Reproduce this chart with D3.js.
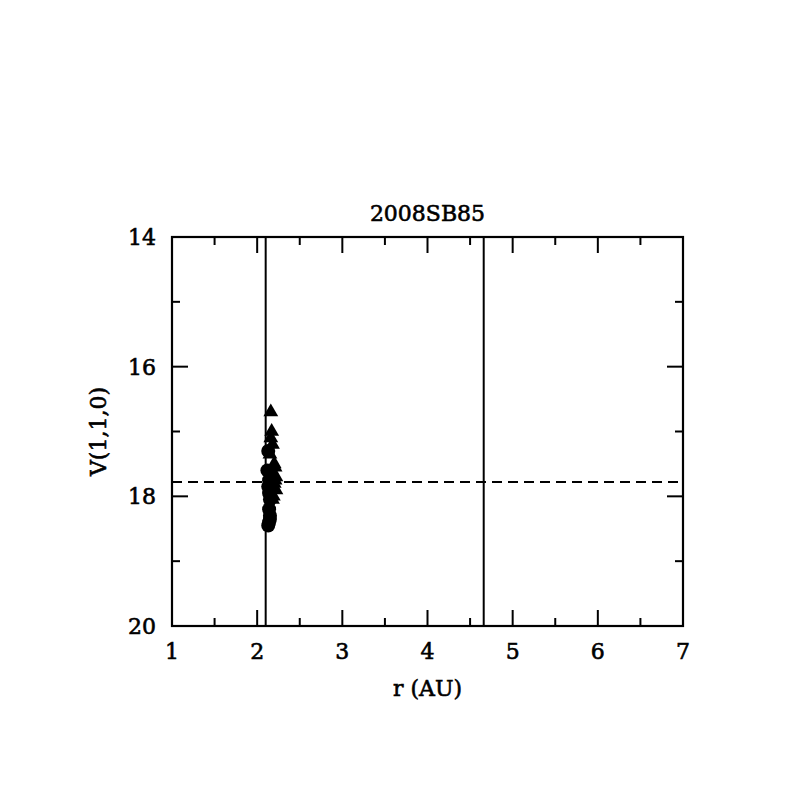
<!DOCTYPE html>
<html>
<head>
<meta charset="utf-8">
<script src="https://cdn.jsdelivr.net/npm/d3@7"></script>
<style>
  body { margin: 0; background: #fff; }
  text { font-family: "DejaVu Serif", serif; fill: #000; stroke: #000; stroke-width: 0.6px; }
</style>
</head>
<body>
<div id="chart"></div>
<script>
// Data
const title = "2008SB85";
const xTicks = [1, 2, 3, 4, 5, 6, 7];
const yTicks = [14, 16, 18, 20];
const vLines = [2.10, 4.66];
const hLine = 17.78;

const triR = [2.16, 2.17, 2.16, 2.18, 2.15, 2.20, 2.21, 2.17, 2.22, 2.21, 2.20, 2.22, 2.19, 2.18];
const triV = [16.70, 17.00, 17.10, 17.20, 17.35, 17.50, 17.55, 17.65, 17.70, 17.75, 17.80, 17.90, 18.00, 18.05];

const cirR = [2.13, 2.12, 2.14, 2.13, 2.14, 2.15, 2.14, 2.15, 2.15, 2.14, 2.13];
const cirV = [17.30, 17.60, 17.75, 17.85, 17.95, 18.05, 18.20, 18.30, 18.35, 18.40, 18.45];

// Dimensions
const W = 797, H = 797;
const margin = {left: 172, right: 114, top: 237, bottom: 171};
const width = W - margin.left - margin.right;
const height = H - margin.top - margin.bottom;

const svg = d3.select("#chart").append("svg")
  .attr("width", W).attr("height", H)
  .append("g")
  .attr("transform", "translate(" + margin.left + "," + margin.top + ")");

const x = d3.scaleLinear().domain([1, 7]).range([0, width]);
const y = d3.scaleLinear().domain([14, 20]).range([0, height]);

// Frame
svg.append("rect")
  .attr("x", 0).attr("y", 0).attr("width", width).attr("height", height)
  .attr("fill", "none").attr("stroke", "#000").attr("stroke-width", 2.2);

// Ticks on all four sides
const xMinor = d3.range(1.5, 7, 1);
const yMinor = d3.range(15, 20, 2);
const tickLine = (x1, y1, x2, y2) => svg.append("line")
  .attr("x1", x1).attr("y1", y1).attr("x2", x2).attr("y2", y2)
  .attr("stroke", "#000").attr("stroke-width", 2);

xTicks.slice(1, -1).forEach(d => {
  tickLine(x(d), height, x(d), height - 16);
  tickLine(x(d), 0, x(d), 16);
});
xMinor.forEach(d => {
  tickLine(x(d), height, x(d), height - 8);
  tickLine(x(d), 0, x(d), 8);
});
yTicks.slice(1, -1).forEach(d => {
  tickLine(0, y(d), 16, y(d));
  tickLine(width, y(d), width - 16, y(d));
});
yMinor.forEach(d => {
  tickLine(0, y(d), 8, y(d));
  tickLine(width, y(d), width - 8, y(d));
});

// Tick labels
svg.selectAll(".xlab").data(xTicks).enter().append("text")
  .attr("x", d => x(d)).attr("y", height + 33)
  .attr("text-anchor", "middle").style("font-size", "22px")
  .text(d => d);
svg.selectAll(".ylab").data(yTicks).enter().append("text")
  .attr("x", -16).attr("y", d => y(d) + 8)
  .attr("text-anchor", "end").style("font-size", "22px")
  .text(d => d);

// Axis labels and title
svg.append("text")
  .attr("x", width / 2).attr("y", height + 70)
  .attr("text-anchor", "middle").style("font-size", "22px")
  .text("r (AU)");
svg.append("text")
  .attr("transform", "rotate(-90)")
  .attr("x", -(y(17.0))).attr("y", -66)
  .attr("text-anchor", "middle").style("font-size", "22px")
  .text("V(1,1,0)");
svg.append("text")
  .attr("x", width / 2).attr("y", -16)
  .attr("text-anchor", "middle").style("font-size", "22px")
  .text(title);

// Reference lines
vLines.forEach(d => tickLine(x(d), 0, x(d), height));
svg.append("line")
  .attr("x1", 0).attr("x2", width)
  .attr("y1", y(hLine)).attr("y2", y(hLine))
  .attr("stroke", "#000").attr("stroke-width", 2)
  .attr("stroke-dasharray", "10,6");

// Points
const tri = d3.symbol().type(d3.symbolTriangle).size(95);
svg.selectAll(".tri").data(d3.zip(triR, triV)).enter().append("path")
  .attr("d", tri)
  .attr("transform", d => "translate(" + x(d[0]) + "," + y(d[1]) + ")")
  .attr("fill", "#000");
svg.selectAll(".cir").data(d3.zip(cirR, cirV)).enter().append("circle")
  .attr("cx", d => x(d[0])).attr("cy", d => y(d[1]))
  .attr("r", 7).attr("fill", "#000");
</script>
</body>
</html>
